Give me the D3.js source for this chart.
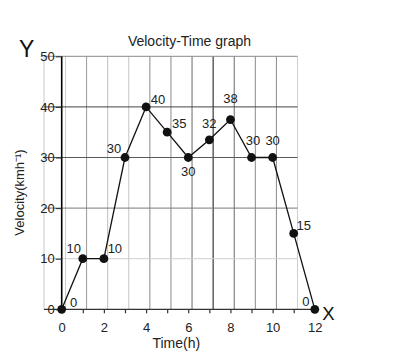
<!DOCTYPE html>
<html>
<head>
<meta charset="utf-8">
<script src="https://cdn.jsdelivr.net/npm/d3@7"></script>
<style>
  html, body { margin: 0; padding: 0; background: #fff; }
  svg { display: block; font-family: "Liberation Sans", Arial, Helvetica, sans-serif; }
</style>
</head>
<body>
<svg id="chart" width="399" height="355"></svg>
<script>
// ---- data ----
const times = [0, 1, 2, 3, 4, 5, 6, 7, 8, 9, 10, 11, 12];
const velocities = [0, 10, 10, 30, 40, 35, 30, 33.5, 37.5, 30, 30, 15, 0];
const pointLabels = ["0", "10", "10", "30", "40", "35", "30", "32", "38", "30", "30", "15", "0"];
const xTickValues = [0, 1, 2, 3, 4, 5, 6, 7, 8, 9, 10, 11, 12];
const xTickLabels = ["0", "", "2", "", "4", "", "6", "", "8", "", "10", "", "12"];
const yTickValues = [0, 10, 20, 30, 40, 50];
const yTickLabels = ["0", "10", "20", "30", "40", "50"];
const titleText = "Velocity-Time graph";
const xTitle = "Time(h)";
const yTitle = "Velocity(kmh\u207B\u00B9)";

// ---- layout / style ----
const labelOffsets = [[12,-7],[-9,-10],[11,-10],[-11,-9],[12,-8],[12,-9],[0,14],[0,-16.5],[0,-21],[1.5,-17],[0,-17],[10,-8],[-9,-8]];
const vGridShift = 0.18;
const vGridColors = ["#cfcfcf","#9a9a9a","#bdbdbd","#c4c4c4","#8a8a8a","#8a8a8a","#6a6a6a","#111111","#6a6a6a","#8a8a8a","#8a8a8a","#cfcfcf"];
const hGridColors = {50: "#8a8a8a", 40: "#444", 30: "#5a5a5a", 20: "#7a7a7a", 10: "#d0d0d0"};
const textColor = "#222";

const svg = d3.select("#chart");
const x = d3.scaleLinear().domain([0, 12]).range([61.7, 314.8]);
const y = d3.scaleLinear().domain([0, 50]).range([309.3, 56.3]);
const leftEdge = 44;
const rightEdge = x(11 + vGridShift);

// left border line
svg.append("line")
  .attr("x1", leftEdge).attr("x2", leftEdge)
  .attr("y1", y(50)).attr("y2", y(0))
  .attr("stroke", "#c8c8c8").attr("stroke-width", 1);

// vertical grid lines (shifted)
svg.append("g").selectAll("line")
  .data(d3.range(0, 12))
  .join("line")
  .attr("x1", d => x(d + vGridShift)).attr("x2", d => x(d + vGridShift))
  .attr("y1", y(50)).attr("y2", y(0))
  .attr("stroke", (d, i) => vGridColors[i])
  .attr("stroke-width", 1);

// horizontal grid lines
svg.append("g").selectAll("line")
  .data(yTickValues.filter(v => v > 0))
  .join("line")
  .attr("x1", leftEdge).attr("x2", rightEdge)
  .attr("y1", d => y(d)).attr("y2", d => y(d))
  .attr("stroke", d => hGridColors[d])
  .attr("stroke-width", 1);

// baseline (x axis)
svg.append("line")
  .attr("x1", leftEdge).attr("x2", x(12))
  .attr("y1", y(0)).attr("y2", y(0))
  .attr("stroke", "#333").attr("stroke-width", 1.2);

// y axis thick line
svg.append("line")
  .attr("x1", x(0)).attr("x2", x(0))
  .attr("y1", y(50)).attr("y2", y(0))
  .attr("stroke", "#000").attr("stroke-width", 1.6);

// x axis ticks & labels via d3 axis
const xAxis = d3.axisBottom(x)
  .tickValues(xTickValues)
  .tickFormat((d, i) => xTickLabels[i])
  .tickSize(4)
  .tickPadding(9);
const gx = svg.append("g").attr("transform", `translate(0,${y(0)})`).call(xAxis);
gx.select(".domain").remove();
gx.selectAll(".tick line").attr("stroke", "#333").attr("stroke-width", 1.2);
gx.selectAll(".tick text")
  .attr("fill", textColor)
  .style("font-size", "13px")
  .style("font-family", "Liberation Sans, Arial, sans-serif");

// y axis ticks & labels
const yAxis = d3.axisLeft(y)
  .tickValues(yTickValues)
  .tickFormat((d, i) => yTickLabels[i])
  .tickSize(6)
  .tickPadding(1);
const gy = svg.append("g").attr("transform", `translate(${x(0)},0)`).call(yAxis);
gy.select(".domain").remove();
gy.selectAll(".tick line").attr("stroke", "#333").attr("stroke-width", 1.1);
gy.selectAll(".tick text")
  .attr("fill", textColor)
  .style("font-size", "13px")
  .style("font-family", "Liberation Sans, Arial, sans-serif");

// line
const pts = times.map((t, i) => [t, velocities[i]]);
svg.append("path")
  .datum(pts)
  .attr("fill", "none")
  .attr("stroke", "#111")
  .attr("stroke-width", 1.3)
  .attr("d", d3.line().x(d => x(d[0])).y(d => y(d[1])));

// dots
svg.append("g").selectAll("circle")
  .data(pts)
  .join("circle")
  .attr("cx", d => x(d[0])).attr("cy", d => y(d[1]))
  .attr("r", 4.4)
  .attr("fill", "#111");

// point labels
svg.append("g").selectAll("text")
  .data(pts)
  .join("text")
  .attr("x", (d, i) => x(d[0]) + labelOffsets[i][0])
  .attr("y", (d, i) => y(d[1]) + labelOffsets[i][1])
  .attr("dy", "0.36em")
  .attr("text-anchor", "middle")
  .attr("fill", textColor)
  .style("font-size", "13px")
  .text((d, i) => pointLabels[i]);

// title
svg.append("text")
  .attr("x", 189.5).attr("y", 46)
  .attr("text-anchor", "middle")
  .attr("fill", textColor)
  .style("font-size", "14px")
  .text(titleText);

// x title
svg.append("text")
  .attr("x", 176.3).attr("y", 348)
  .attr("text-anchor", "middle")
  .attr("fill", textColor)
  .style("font-size", "14px")
  .text(xTitle);

// y title (rotated)
svg.append("text")
  .attr("transform", "translate(24,192.5) rotate(-90)")
  .attr("text-anchor", "middle")
  .attr("fill", textColor)
  .style("font-size", "13px")
  .text(yTitle);

// big axis letters
svg.append("text")
  .attr("x", 26.7).attr("y", 56.5)
  .attr("text-anchor", "middle")
  .attr("fill", "#111")
  .style("font-size", "23px")
  .text("Y");
svg.append("text")
  .attr("x", 328.3).attr("y", 320)
  .attr("text-anchor", "middle")
  .attr("fill", "#111")
  .style("font-size", "18.5px")
  .text("X");
</script>
</body>
</html>
